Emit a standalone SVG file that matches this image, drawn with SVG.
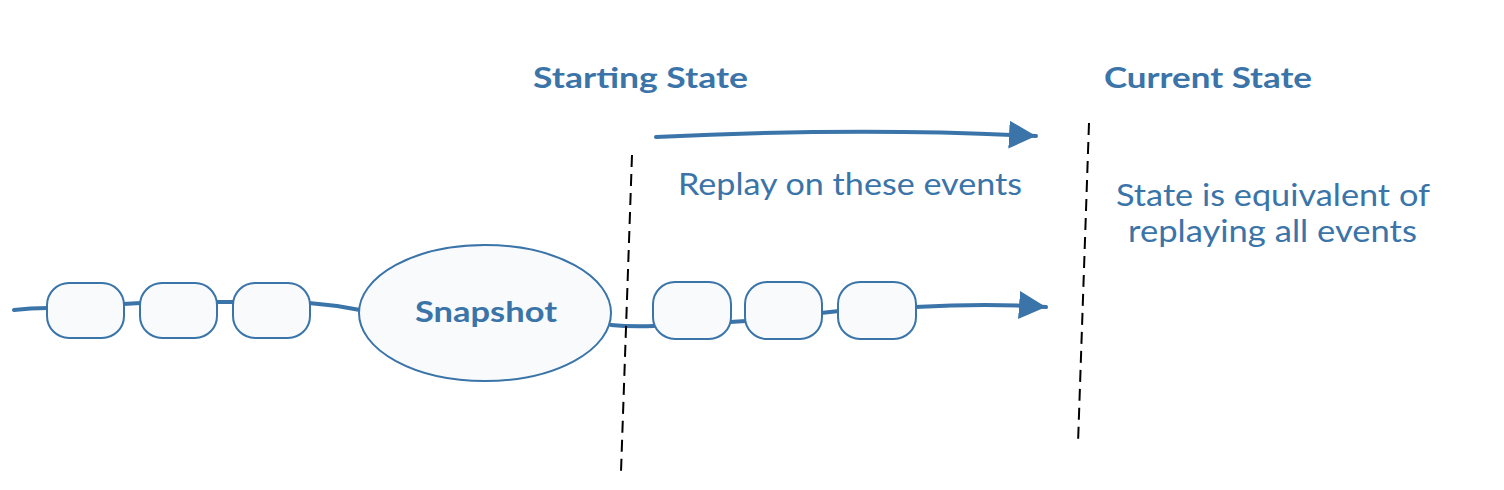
<svg xmlns="http://www.w3.org/2000/svg" width="1504" height="490" viewBox="0 0 1504 490">
<style>
text{font-family:Lato,"Open Sans","Liberation Sans",sans-serif;fill:#3a74a8}
.b{font-weight:bold;font-size:29px}
.r{font-size:31px}
.ev{fill:#f8fafc;stroke:#3a74a8;stroke-width:2}
.ln{fill:none;stroke:#3a74a8;stroke-width:4;stroke-linecap:round}
.dash{fill:none;stroke:#000;stroke-width:2;stroke-dasharray:12 7}
</style>
<defs>
<marker id="ah" markerUnits="userSpaceOnUse" markerWidth="30" markerHeight="30" refX="27" refY="14" orient="auto">
<path d="M0,0 L27,14 L0,28 Z" fill="#3a74a8"/>
</marker>
</defs>
<rect width="1504" height="490" fill="#fff"/>
<g id="connectors">
<path class="ln" d="M14,310 Q30,308 48,308"/>
<path class="ln" d="M123,304 L141,303"/>
<path class="ln" d="M216,302 L234,302"/>
<path class="ln" d="M309,303 Q335,305 360,310"/>
<path class="ln" d="M611,325 Q630,327 654,326"/>
<path class="ln" d="M730,322 L746,321"/>
<path class="ln" d="M821,313 L839,311"/>
<path class="ln" d="M915,307 Q990,303 1046,307" marker-end="url(#ah)"/>
<path class="ln" d="M656,137 Q860,127 1036,136" marker-end="url(#ah)"/>
</g>
<g id="dividers">
<line class="dash" x1="632" y1="155" x2="621" y2="472"/>
<line class="dash" x1="1089" y1="123" x2="1078" y2="444"/>
</g>
<g id="event1"><rect class="ev" x="47" y="283" width="77" height="55" rx="22"/></g>
<g id="event2"><rect class="ev" x="140" y="283" width="77" height="55" rx="22"/></g>
<g id="event3"><rect class="ev" x="233" y="283" width="77" height="55" rx="22"/></g>
<g id="snapshot">
<ellipse class="ev" cx="485" cy="313" rx="126" ry="68"/>
<text class="b" x="486" y="322" text-anchor="middle" textLength="142" lengthAdjust="spacingAndGlyphs">Snapshot</text>
</g>
<g id="event4"><rect class="ev" x="653" y="282" width="78" height="57" rx="22"/></g>
<g id="event5"><rect class="ev" x="745" y="282" width="77" height="57" rx="22"/></g>
<g id="event6"><rect class="ev" x="838" y="282" width="78" height="57" rx="22"/></g>
<g id="labels">
<text class="b" x="533" y="88" textLength="215" lengthAdjust="spacingAndGlyphs">Starting State</text>
<text class="b" x="1104" y="88" textLength="208" lengthAdjust="spacingAndGlyphs">Current State</text>
<text class="r" x="678" y="195" textLength="344" lengthAdjust="spacingAndGlyphs">Replay on these events</text>
<text class="r" x="1116" y="206" textLength="314" lengthAdjust="spacingAndGlyphs">State is equivalent of</text>
<text class="r" x="1128" y="242" textLength="289" lengthAdjust="spacingAndGlyphs">replaying all events</text>
</g>
</svg>
